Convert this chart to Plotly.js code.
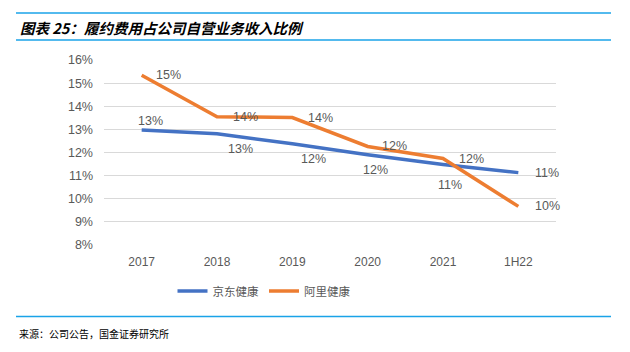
<!DOCTYPE html>
<html><head><meta charset="utf-8">
<script src="https://cdn.plot.ly/plotly-3.0.1.min.js"></script>
<style>body{margin:0;background:#fff}#c{width:630px;height:352px}</style>
</head><body><div id="c"></div>
<script>
var categories = ["2017","2018","2019","2020","2021","1H22"];
var jdValues = [12.97, 12.81, 12.38, 11.90, 11.48, 11.13];
var aliValues = [15.34, 13.55, 13.51, 12.26, 11.74, 9.67];
var jdLabels = ["13%","13%","12%","12%","11%","11%"];
var aliLabels = ["15%","14%","14%","12%","12%","10%"];
var yTickVals = [8,9,10,11,12,13,14,15,16];
var yTickText = ["8%","9%","10%","11%","12%","13%","14%","15%","16%"];
var seriesNames = ["京东健康","阿里健康"];

var jdShift = [[9,9],[23,-15],[21,-15],[8,-15],[7,-20],[29,0]];
var aliShift = [[27,0],[28,0],[28,0],[27,0],[28,0],[29,0]];

var labelFont = {family:"Liberation Sans, Arial, sans-serif", size:12.5, color:"#595959"};
var traces = [
  {x:categories, y:jdValues, name:seriesNames[0], type:"scatter", mode:"lines",
   line:{color:"#4472C4", width:3.5}},
  {x:categories, y:aliValues, name:seriesNames[1], type:"scatter", mode:"lines",
   line:{color:"#ED7D31", width:3.5}}
];
var ann = [];
categories.forEach(function(c,i){
  ann.push({xref:"x", yref:"y", x:i, y:jdValues[i], text:jdLabels[i], showarrow:false, xshift:jdShift[i][0], yshift:jdShift[i][1], font:labelFont});
  ann.push({xref:"x", yref:"y", x:i, y:aliValues[i], text:aliLabels[i], showarrow:false, xshift:aliShift[i][0], yshift:aliShift[i][1], font:labelFont});
});
function px(v){return (v-104)/452;}
function py(v){return (245-v)/185;}
ann.push({xref:"paper", yref:"paper", x:px(18), y:py(27), xanchor:"left", yanchor:"middle", showarrow:false,
  text:"<b><i>图表 25：履约费用占公司自营业务收入比例</i></b>",
  font:{family:"Noto Sans CJK SC, sans-serif", size:14.5, color:"#000"}});
ann.push({xref:"paper", yref:"paper", x:px(17), y:py(333), xanchor:"left", yanchor:"middle", showarrow:false,
  text:"来源：公司公告，国金证券研究所",
  font:{family:"Noto Sans CJK SC, sans-serif", size:10, color:"#000"}});
var lineC = "#1AA3E8";
var shapes = [
  {type:"line", xref:"paper", yref:"paper", x0:px(16), x1:px(611), y0:py(13), y1:py(13), line:{color:lineC, width:1.5}},
  {type:"line", xref:"paper", yref:"paper", x0:px(16), x1:px(611), y0:py(40), y1:py(40), line:{color:lineC, width:1.5}},
  {type:"line", xref:"paper", yref:"paper", x0:px(16), x1:px(611), y0:py(316.5), y1:py(316.5), line:{color:lineC, width:1.5}}
];
var layout = {
  width:630, height:352,
  margin:{l:104, r:74, t:60, b:107},
  paper_bgcolor:"#fff", plot_bgcolor:"#fff",
  showlegend:true,
  legend:{orientation:"h", x:px(264), xanchor:"center", y:py(291), yanchor:"middle",
    font:{family:"Noto Sans CJK SC, sans-serif", size:11.5, color:"#595959"}, itemwidth:30, tracegroupgap:0},
  xaxis:{type:"category", range:[-0.5,5.5], showgrid:false, zeroline:false, showline:false, ticks:"",
    tickfont:{family:"Liberation Sans, Arial, sans-serif", size:12, color:"#595959"}, ticklabelstandoff:8, fixedrange:true},
  yaxis:{range:[8,16], tickvals:yTickVals, ticktext:yTickText, showgrid:true, gridcolor:"#D9D9D9", gridwidth:1,
    zeroline:false, showline:false, ticks:"", ticklabelstandoff:10,
    tickfont:{family:"Liberation Sans, Arial, sans-serif", size:12.5, color:"#595959"}, fixedrange:true},
  annotations:ann, shapes:shapes
};
Plotly.newPlot("c", traces, layout, {staticPlot:true, displayModeBar:false});
</script></body></html>
